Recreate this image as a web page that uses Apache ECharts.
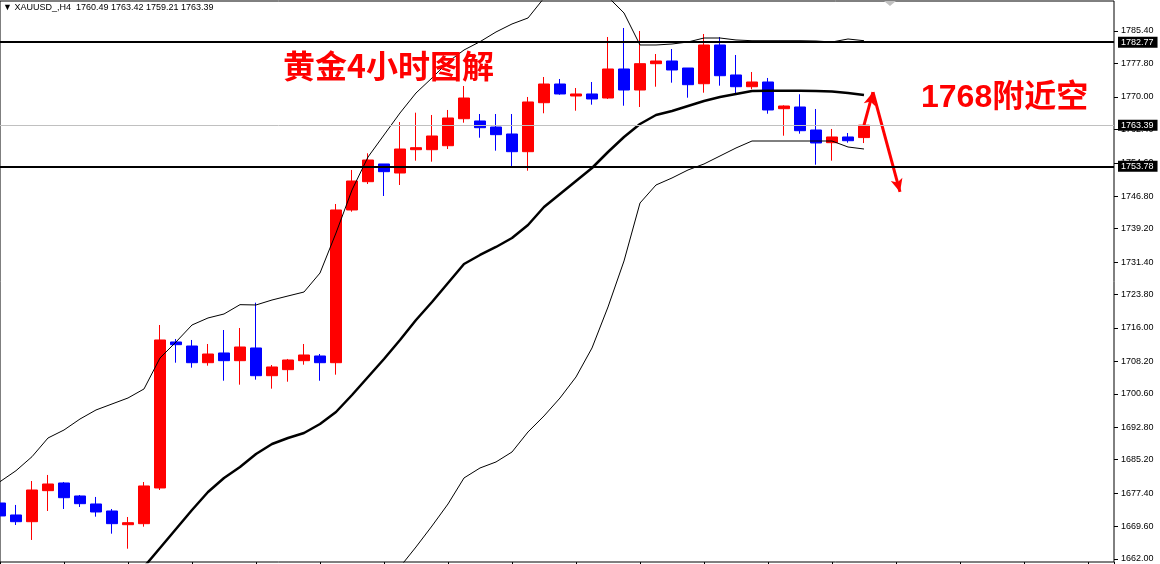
<!DOCTYPE html>
<html>
<head>
<meta charset="utf-8">
<script src="https://cdn.jsdelivr.net/npm/echarts@6/dist/echarts.min.js"></script>
<style>html,body{margin:0;padding:0;background:#fff;}#c{width:1160px;height:564px;}</style>
</head>
<body>
<div id="c"></div>
<script>
// ---- data (XAUUSD H4) ----
const symbolName = 'XAUUSD_,H4';
const lastBar = [1760.49, 1763.42, 1759.21, 1763.39]; // O H L C shown in header
const opens  = [1675.09,1672.29,1670.72,1677.97,1679.77,1676.73,1674.86,1673.22,1670.02,1670.26,1678.60,1712.72,1711.78,1707.88,1710.15,1708.35,1711.32,1704.84,1706.25,1708.35,1709.45,1707.88,1743.57,1750.18,1754.32,1752.21,1757.66,1757.66,1758.59,1764.90,1764.37,1762.96,1761.33,1757.19,1768.64,1773.01,1770.21,1770.68,1769.74,1776.52,1771.61,1777.76,1778.39,1776.75,1773.08,1782.13,1775.12,1772.38,1773.48,1767.24,1767.64,1762.26,1759.30,1760.63,1760.49];
const closes = [1672.06,1670.72,1678.13,1679.53,1676.33,1674.93,1672.99,1670.26,1670.49,1679.07,1713.19,1712.09,1707.88,1709.91,1708.35,1711.55,1704.84,1706.88,1708.51,1709.68,1707.88,1743.57,1750.34,1755.25,1752.52,1757.82,1758.13,1760.86,1765.07,1769.74,1762.80,1761.17,1757.19,1768.81,1773.01,1770.68,1770.68,1769.51,1776.52,1771.61,1777.76,1778.39,1776.29,1772.85,1782.13,1774.95,1772.38,1773.48,1766.94,1767.87,1762.10,1759.23,1760.63,1759.76,1763.39];
const highs  = [1680.07,1674.63,1680.23,1681.64,1680.00,1676.96,1676.50,1673.69,1671.82,1680.00,1716.69,1713.42,1713.19,1712.25,1715.52,1715.99,1721.90,1707.34,1708.75,1712.25,1709.91,1744.97,1752.92,1756.82,1754.32,1764.13,1766.31,1765.77,1766.94,1772.55,1766.00,1766.00,1766.00,1769.98,1774.65,1774.18,1772.08,1773.48,1784.00,1786.10,1785.40,1780.02,1781.19,1776.75,1784.70,1784.00,1779.79,1775.82,1774.42,1768.04,1770.61,1767.17,1762.50,1761.56,1763.42];
const lows   = [1670.19,1669.95,1666.45,1673.22,1673.69,1674.16,1671.89,1667.92,1664.41,1669.55,1678.13,1707.88,1706.71,1707.18,1703.67,1702.74,1703.91,1701.81,1703.44,1707.41,1703.67,1705.08,1743.17,1749.64,1746.84,1749.41,1755.09,1754.86,1757.82,1763.97,1760.46,1757.43,1753.85,1752.75,1766.17,1770.51,1766.77,1768.18,1769.51,1767.94,1767.64,1772.38,1773.32,1769.81,1770.98,1772.62,1770.84,1771.78,1766.07,1760.93,1761.40,1754.15,1755.09,1759.30,1759.21];
const bbUpper  = [1680.07,1682.64,1685.91,1690.28,1692.15,1694.72,1696.83,1698.23,1699.63,1701.74,1708.98,1712.72,1716.69,1718.33,1719.26,1721.44,1721.37,1722.53,1723.47,1724.40,1728.84,1738.19,1748.24,1755.95,1761.10,1766.24,1770.91,1774.42,1778.16,1780.96,1782.90,1785.17,1787.04,1788.44,1793.11,1794.98,1796.15,1795.45,1793.35,1789.61,1782.13,1782.13,1782.36,1782.83,1783.76,1783.76,1783.30,1783.13,1783.13,1783.13,1783.13,1783.06,1782.83,1783.53,1783.13];
const bbMiddle = [null,null,null,null,null,null,null,null,null,1660.14,1664.58,1669.02,1673.46,1677.66,1680.94,1683.51,1686.54,1688.88,1690.28,1691.45,1693.56,1696.36,1700.33,1704.54,1708.75,1713.19,1717.86,1722.07,1726.51,1730.95,1733.05,1734.92,1737.02,1740.06,1744.27,1747.31,1750.34,1753.38,1757.12,1760.63,1763.67,1765.77,1766.70,1767.87,1769.04,1769.98,1770.68,1771.38,1771.45,1771.45,1771.45,1771.38,1771.26,1770.91,1770.44];
const bbLower  = [null,null,null,null,null,null,null,null,null,null,null,null,null,null,null,null,null,null,null,null,null,null,null,null,1656.40,1660.14,1664.81,1669.72,1674.86,1680.94,1683.27,1684.68,1687.01,1691.69,1695.43,1699.63,1704.54,1711.32,1720.90,1731.65,1745.20,1749.41,1751.05,1752.92,1754.32,1756.19,1758.06,1759.69,1759.69,1759.69,1759.69,1759.69,1759.69,1758.29,1757.82];
const yTicks = [1662.00,1669.60,1677.40,1685.20,1692.80,1700.60,1708.20,1716.00,1723.80,1731.40,1739.20,1746.80,1754.60,1762.40,1770.00,1777.80,1785.40];
const resistance = 1782.77;
const support = 1753.78;
const lastPrice = 1763.39;
const arrowPoints = [[54.0, 1763.4], [54.56, 1771.1], [56.25, 1747.8]];
const titleText = '黄金4小时图解';
const noteText = '1768附近空';

// visible window: bar index range and price range
const xMin = 0, xMax = 69.625, xTickStep = 4;
const yMin = 1661.30, yMax = 1792.41;

const candleData = opens.map((o, i) => [i, o, closes[i], lows[i], highs[i]]);
const toXY = arr => arr.map((v, i) => [i, v]).filter(p => p[1] != null);

const boxLabel = {
  show: true, position: 'end', distance: 4,
  formatter: p => p.value.toFixed(2),
  backgroundColor: '#000', color: '#fff', fontSize: 9,
  fontFamily: 'Liberation Sans, Arial, sans-serif',
  padding: [1, 4, 0, 3], lineHeight: 10
};
const bigText = {
  fontWeight: 'bold', color: '#ff0000',
  textShadowColor: 'rgba(0,0,80,0.85)', textShadowOffsetX: 2, textShadowOffsetY: 2, textShadowBlur: 0
};

const chart = echarts.init(document.getElementById('c'), null, {renderer: 'canvas'});
chart.setOption({
  animation: false,
  backgroundColor: '#fff',
  title: [
    {
      text: '▼ ' + symbolName + '  ' + lastBar.map(v => v.toFixed(2)).join(' '),
      left: 3, top: 3, padding: 0,
      textStyle: {fontSize: 9, fontWeight: 'normal', color: '#000', fontFamily: 'Liberation Sans, Arial, sans-serif'}
    },
    {
      text: titleText, left: 283, top: 50, padding: 0,
      textStyle: Object.assign({fontSize: 32, fontFamily: 'Noto Sans CJK SC, sans-serif'}, bigText)
    },
    {
      text: noteText, left: 921, top: 82, padding: 0,
      textStyle: Object.assign({fontSize: 32, fontFamily: 'Liberation Sans, Noto Sans CJK SC, sans-serif'}, bigText)
    }
  ],
  grid: {left: 0, right: 46, top: 1, bottom: 2, show: true, borderColor: '#000', borderWidth: 1, backgroundColor: '#fff', containLabel: false},
  xAxis: {
    type: 'value', min: xMin, max: xMax, interval: xTickStep,
    axisLine: {show: false, onZero: false},
    axisTick: {show: true, length: 3, lineStyle: {color: '#000'}},
    axisLabel: {show: false}, splitLine: {show: false}
  },
  yAxis: {
    type: 'value', position: 'right', min: yMin, max: yMax, scale: true,
    axisLine: {show: false, onZero: false},
    axisTick: {show: true, length: 4, customValues: yTicks, lineStyle: {color: '#000'}},
    axisLabel: {show: true, customValues: yTicks, formatter: v => v.toFixed(2), margin: 7,
      fontSize: 9, color: '#000', fontFamily: 'Liberation Sans, Arial, sans-serif'},
    splitLine: {show: false}
  },
  series: [
    {
      type: 'candlestick', data: candleData, encode: {x: 0, y: [1, 2, 3, 4]}, barWidth: 11, z: 2,
      itemStyle: {color: '#ff0000', color0: '#0000ff', borderColor: '#ff0000', borderColor0: '#0000ff', borderWidth: 1},
      markLine: {
        silent: true, symbol: 'none', z: 6,
        data: [
          {yAxis: lastPrice, lineStyle: {color: '#c0c0c0', width: 1, type: 'solid'}, label: boxLabel},
          {yAxis: resistance, lineStyle: {color: '#000', width: 2, type: 'solid'}, label: boxLabel},
          {yAxis: support, lineStyle: {color: '#000', width: 2, type: 'solid'}, label: boxLabel}
        ]
      }
    },
    {type: 'line', data: toXY(bbUpper), symbol: 'none', z: 4, lineStyle: {color: '#000', width: 1}, clip: true},
    {type: 'line', data: toXY(bbMiddle), symbol: 'none', z: 4, lineStyle: {color: '#000', width: 2.5}, clip: true},
    {type: 'line', data: toXY(bbLower), symbol: 'none', z: 4, lineStyle: {color: '#000', width: 1}, clip: true},
    {
      type: 'line', data: [], symbol: 'none', z: 7,
      markLine: {
        silent: true, symbol: ['none', 'arrow'], symbolSize: [9, 13],
        lineStyle: {color: '#ff0000', width: 3, type: 'solid'},
        label: {show: false},
        data: [
          [{coord: arrowPoints[0]}, {coord: arrowPoints[1]}],
          [{coord: arrowPoints[1]}, {coord: arrowPoints[2]}]
        ]
      }
    }
  ],
  graphic: [
    {type: 'polygon', shape: {points: [[884, 1], [896, 1], [890, 6]]}, style: {fill: '#c0c0c0'}, z: 10}
  ]
});
</script>
</body>
</html>
